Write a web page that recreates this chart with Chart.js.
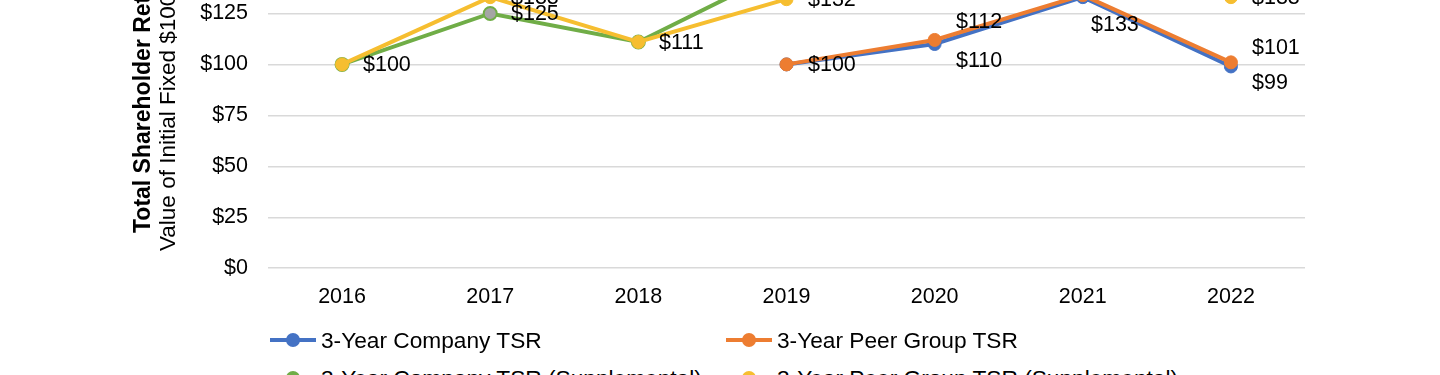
<!DOCTYPE html>
<html>
<head>
<meta charset="utf-8">
<script src="https://cdn.jsdelivr.net/npm/chart.js@4"></script>
<style>
html, body { margin: 0; padding: 0; background: #fff; }
#wrap { position: relative; width: 1440px; height: 375px; overflow: hidden; font-family: "Liberation Sans", Arial, sans-serif; }
#box { position: absolute; left: 0; top: -80px; width: 1440px; height: 417px; }
.leg { position: absolute; height: 24px; display: flex; align-items: center; font-size: 22.7px; color: #000; white-space: nowrap; }
.sym { position: relative; width: 46px; height: 24px; margin-right: 5px; }
.sym .ln { position: absolute; left: 0; right: 0; top: 10px; height: 4px; }
.sym .dt { position: absolute; left: 16px; top: 5px; width: 14px; height: 14px; border-radius: 50%; }
</style>
</head>
<body>
<div id="wrap">
  <div id="box"><canvas id="grafico"></canvas></div>
  <div id="legenda"></div>
</div>
<script>
// TSR - retorno total ao acionista

const anos = ["2016", "2017", "2018", "2019", "2020", "2021", "2022"];
const tsrEmpresa = [null, null, null, 100, 110, 133, 99];
const tsrPares = [null, null, null, 100, 112, 134, 101];
const tsrEmpresaSupl = [100, 125, 111, 147, null, null, null];
const tsrParesSupl = [100, 133, 111, 132, null, null, 133];
const ticksY = [0, 25, 50, 75, 100, 125, 150];

const nomes = [
    "3-Year Company TSR",
    "3-Year Peer Group TSR",
    "3-Year Company TSR (Supplemental)",
    "3-Year Peer Group TSR (Supplemental)"
];
const cores = ["#4472C4", "#ED7D31", "#70AD47", "#F6BE30"];

const fonte = "'Liberation Sans', Arial, sans-serif";
Chart.defaults.font.family = fonte;
Chart.defaults.font.size = 21.5;
Chart.defaults.color = "#000";

function serie(i, dados, ordem, pos) {
    return {
        label: nomes[i],
        data: dados,
        borderColor: cores[i],
        backgroundColor: cores[i],
        pointBackgroundColor: cores[i],
        pointBorderColor: cores[i],
        borderWidth: 4,
        pointRadius: 6.5,
        pointBorderWidth: 1,
        order: ordem,
        posRotulo: pos
    };
}

const dsEmpresaSupl = serie(2, tsrEmpresaSupl, 3, "right");
dsEmpresaSupl.pointBackgroundColor = tsrEmpresaSupl.map((v, j) => j === 1 ? "#A5A5A5" : cores[2]);
dsEmpresaSupl.pointBorderWidth = 2;

// ajustes manuais de alguns rótulos (dataset-índice)
const ajusteRotulo = { "0-5": { dx: -13, dy: 11 }, "1-6": { dx: 0, dy: 4 } };

// rótulos de dados ao estilo Excel
const rotulos = {
    id: "rotulos",
    afterDatasetsDraw(chart) {
        const ctx = chart.ctx;
        const feitos = new Set();
        ctx.save();
        ctx.font = "21.5px " + fonte;
        ctx.fillStyle = "#000";
        ctx.textAlign = "left";
        ctx.textBaseline = "middle";
        chart.data.datasets.forEach((ds, i) => {
            const meta = chart.getDatasetMeta(i);
            let primeiro = true;
            meta.data.forEach((pt, j) => {
                const v = ds.data[j];
                if (v == null) return;
                let dx = 21, dy = 1;
                if (!primeiro) {
                    if (ds.posRotulo === "below") dy += 16;
                    if (ds.posRotulo === "above") dy -= 19;
                }
                primeiro = false;
                const aj = ajusteRotulo[i + "-" + j];
                if (aj) { dx += aj.dx; dy += aj.dy; }
                const x = Math.round(pt.x + dx), y = Math.round(pt.y + dy);
                const chave = v + "|" + x + "|" + y;
                if (feitos.has(chave)) return;
                feitos.add(chave);
                ctx.fillText("$" + v, x, y);
            });
        });
        ctx.restore();
    }
};

// título do eixo Y (duas linhas)
const tituloY = {
    id: "tituloY",
    afterDraw(chart) {
        const ctx = chart.ctx;
        ctx.save();
        ctx.fillStyle = "#000";
        ctx.textAlign = "left";
        ctx.textBaseline = "middle";
        ctx.translate(144, 313);
        ctx.rotate(-Math.PI / 2);
        ctx.font = "bold 23px " + fonte;
        ctx.fillText("Total Shareholder Return", 0, 0);
        ctx.restore();
        ctx.save();
        ctx.fillStyle = "#000";
        ctx.textAlign = "left";
        ctx.textBaseline = "middle";
        ctx.translate(169, 331);
        ctx.rotate(-Math.PI / 2);
        ctx.font = "22.5px " + fonte;
        ctx.fillText("Value of Initial Fixed $100 Investment", 0, 0);
        ctx.restore();
    }
};

const grafico = new Chart(document.getElementById("grafico"), {
    type: "line",
    data: {
        labels: anos,
        datasets: [
            serie(0, tsrEmpresa, 1, "below"),
            serie(1, tsrPares, 0, "above"),
            dsEmpresaSupl,
            serie(3, tsrParesSupl, 2, "right")
        ]
    },
    options: {
        responsive: true, maintainAspectRatio: false,
        animation: false,
        layout: { padding: { top: 42.5, right: 135, bottom: 11, left: 0 } },
        plugins: { legend: { display: false }, tooltip: { enabled: false } },
        scales: {
            y: {
                min: 0, max: 150,
                afterFit: s => { s.width = 268; },
                afterBuildTicks: s => { s.ticks = ticksY.map(v => ({ value: v })); },
                ticks: { padding: 20, callback: v => "$" + v },
                grid: { color: "#D9D9D9", lineWidth: 1.5, drawTicks: false },
                border: { display: false }
            },
            x: {
                offset: true,
                ticks: { padding: 16 },
                grid: { display: false, drawTicks: false },
                border: { display: false }
            }
        }
    },
    plugins: [rotulos, tituloY]
});

// legenda em grade 2x2
const posLegenda = [[270, 340], [726, 340], [270, 378], [726, 378]];
document.getElementById("legenda").innerHTML = nomes.map((n, i) => `
    <div class="leg" style="left:${posLegenda[i][0]}px; top:${posLegenda[i][1] - 12}px">
        <div class="sym"><div class="ln" style="background:${cores[i]}"></div><div class="dt" style="background:${cores[i]}"></div></div>
        <span>${n}</span>
    </div>`).join("");
</script>
</body>
</html>
